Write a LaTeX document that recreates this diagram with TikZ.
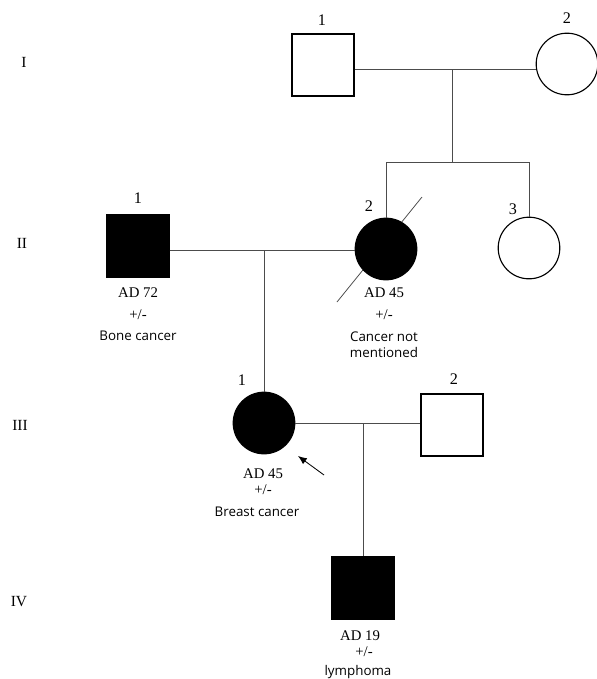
\documentclass[tikz,border=0pt]{standalone}
\usepackage{fontspec}
\setmainfont{Liberation Serif}
\newfontfamily\notefont{Open Sans}
\usetikzlibrary{positioning,arrows.meta}
\tikzset{
  male/.style={draw, line width=0.8pt, minimum size=1.55cm, inner sep=0pt},
  female/.style={circle, draw, line width=0.8pt, minimum size=1.54cm, inner sep=0pt},
  affected/.style={fill=black},
  idnum/.style={font=\fontsize{11.5}{12}\selectfont, inner sep=0pt},
  gen/.style={font=\fontsize{11}{12}\selectfont, inner sep=0pt},
  info/.style={font=\fontsize{10.5}{11}\selectfont, inner sep=0pt},
  note/.style={font=\notefont\fontsize{9.5}{11.3}\selectfont, inner sep=0pt, align=center},
  relline/.style={draw=black!70, line width=0.55pt},
  proband/.style={-{Latex[length=2.2mm, width=1.8mm]}, line width=0.6pt}
}
\begin{document}
\begin{tikzpicture}[x=0.025cm, y=-0.025cm]
  \useasboundingbox (0,0) rectangle (597,679);
  \node[gen] (genI) at (24,62) {I};
  \node[gen] (genII) at (22,243) {II};
  \node[gen] (genIII) at (20,425) {III};
  \node[gen] (genIV) at (19,602) {IV};
  \node[male] (i1) at (323,65) {};
  \node[female] (i2) at (567,64) {};
  \node[idnum] (i1num) at (322,20) {1};
  \node[idnum] (i2num) at (567,18) {2};
  \node[male, affected] (ii1) at (138,246) {};
  \coordinate (slashA) at (337,302);
  \coordinate (slashB) at (422,197);
  \draw[relline] (slashA) -- (slashB);
  \node[female, affected] (ii2) at (386,249) {};
  \node[female] (ii3) at (529,248) {};
  \node[idnum] (ii1num) at (138,198) {1};
  \node[idnum] (ii2num) at (369,206) {2};
  \node[idnum] (ii3num) at (513,209) {3};
  \node[info] (ii1ad) at (138,293) {AD 72};
  \node[info] (ii1pm) at (138,315) {+/-};
  \node[note] (ii1note) at (138,336) {Bone cancer};
  \node[info] (ii2ad) at (384,293) {AD 45};
  \node[info] (ii2pm) at (384,315) {+/-};
  \node[note] (ii2note) at (384,345) {Cancer not\\mentioned};
  \node[female, affected] (iii1) at (264,423) {};
  \node[male] (iii2) at (452,425) {};
  \node[idnum] (iii1num) at (242,380) {1};
  \node[idnum] (iii2num) at (454,379) {2};
  \node[info] (iii1ad) at (263,474) {AD 45};
  \node[info] (iii1pm) at (263,490) {+/-};
  \node[note] (iii1note) at (257,512) {Breast cancer};
  \coordinate (arrtail) at (324,475);
  \coordinate (arrtip) at (298,456);
  \draw[proband] (arrtail) -- (arrtip);
  \node[male, affected] (iv1) at (363,588) {};
  \node[info] (iv1ad) at (360,636) {AD 19};
  \node[info] (iv1pm) at (364,652) {+/-};
  \node[note] (iv1note) at (358,672) {lymphoma};
  \coordinate (m1) at (452,69);
  \coordinate (s1) at (452,162);
  \coordinate (s1l) at (386,162);
  \coordinate (s1r) at (529,162);
  \draw[relline] (i1.east |- m1) -- (i2.west |- m1);
  \draw[relline] (m1) -- (s1);
  \draw[relline] (s1l) -- (s1r);
  \draw[relline] (s1l) -- (ii2.north);
  \draw[relline] (s1r) -- (ii3.north);
  \coordinate (m2) at (264,250);
  \draw[relline] (ii1.east |- m2) -- (ii2.west |- m2);
  \draw[relline] (m2) -- (iii1.north);
  \coordinate (m3) at (363,423);
  \draw[relline] (iii1.east) -- (iii1.east -| iii2.west);
  \draw[relline] (m3) -- (iv1.north);
\end{tikzpicture}
\end{document}
